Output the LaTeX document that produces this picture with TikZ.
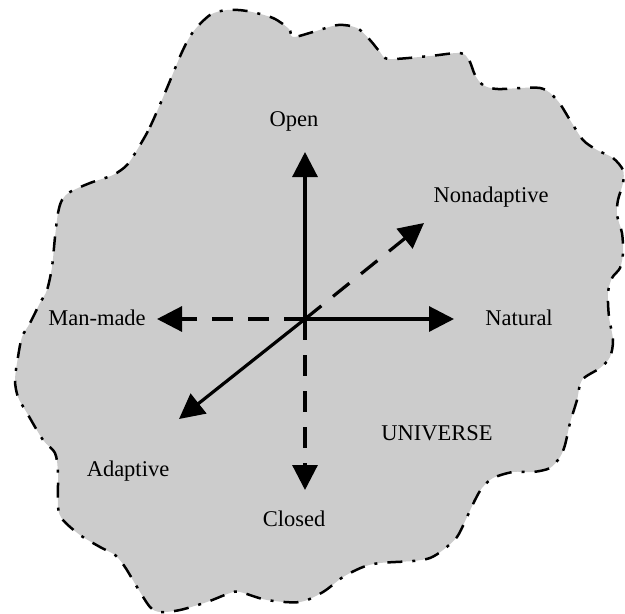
\documentclass[tikz,border=0pt]{standalone}
\usepackage{fontspec}
\setmainfont{Liberation Serif}
\usetikzlibrary{arrows.meta}
\definecolor{blobgray}{gray}{0.8}
\tikzset{
  lbl/.style={anchor=base, inner sep=0pt, font=\fontsize{22.5}{27}\selectfont},
  axis/.style={line width=3.2pt, -{Triangle[length=25pt,width=25pt]}},
  dashaxis/.style={axis, dash pattern=on 21pt off 15pt},
  blob/.style={fill=blobgray, draw=black, line width=2.5pt,
    dash pattern=on 15pt off 10pt on 3pt off 10pt}
}
\begin{document}
\begin{tikzpicture}[x=1pt,y=-1pt]
\useasboundingbox (0,0) rectangle (625,614);
\draw[blob] plot[smooth cycle, tension=0.5] coordinates {
(137,150) (150,127) (167,88) (182,52) (193,32) (210,15) (227,10) (247,11) (273,18) (289,29) (293,37)
(313,32) (338,25) (357,28) (370,40) (380,52) (389,59) (430,56) (460,53) (469,60) (475,75) (483,85)
(498,89) (540,88) (557,100) (570,120) (583,140) (597,150) (613,158) (623,170) (623,183) (618,200)
(617,215) (622,233) (623,253) (620,268) (612,278) (608,293) (609,317) (613,340) (610,357) (600,368)
(582,380) (577,400) (570,423) (565,445) (560,457) (550,468) (533,472) (513,472) (493,478) (482,488)
(475,500) (467,517) (457,537) (443,550) (430,558) (413,561) (380,563) (363,567) (343,577) (323,592)
(300,602) (267,600) (240,592) (230,593) (207,602) (180,610) (160,612) (150,607) (137,587) (125,567)
(115,555) (100,547) (80,535) (63,520) (58,507) (58,473) (55,453) (43,440) (27,413) (18,397)
(15,380) (18,357) (22,337) (30,323) (40,303) (47,290) (52,267) (55,237) (58,213) (62,200) (70,192)
(90,183) (113,175) (127,165)};

\coordinate (o) at (305,319);
\coordinate (topen) at (305,152);
\coordinate (tclosed) at (305,490);
\coordinate (tnatural) at (454,319);
\coordinate (tmanmade) at (157,319);
\coordinate (tnonad) at (424,223);
\coordinate (tad) at (179,419);

\draw[axis] (o) -- (topen);
\draw[axis] (o) -- (tnatural);
\draw[axis] (o) -- (tad);
\draw[dashaxis] (o) -- (tclosed);
\draw[dashaxis] (o) -- (tmanmade);
\draw[dashaxis] (o) -- (tnonad);

\node[lbl] (open) at (294,126) {Open};
\node[lbl] (closed) at (294,526) {Closed};
\node[lbl] (natural) at (519,325) {Natural};
\node[lbl] (manmade) at (97,325) {Man-made};
\node[lbl] (nonad) at (491,202) {Nonadaptive};
\node[lbl] (ad) at (128,476) {Adaptive};
\node[lbl] (univ) at (437,440) {UNIVERSE};
\end{tikzpicture}
\end{document}
